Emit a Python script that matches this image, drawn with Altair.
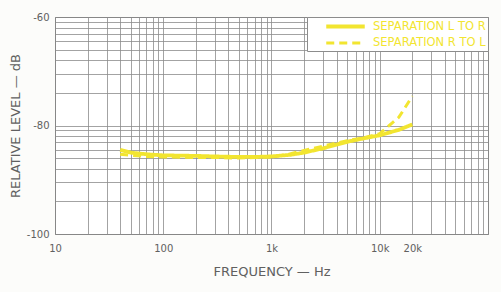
import math
import altair as alt
import pandas as pd

# ---- data ----
freq = [40, 50, 70, 100, 200, 300, 500, 700, 1000, 1500, 2000, 3000, 5000, 7000, 10000, 15000, 20000]
sep_l_to_r = [-84.5, -85.0, -85.3, -85.5, -85.6, -85.7, -85.8, -85.8, -85.7, -85.4, -85.0, -84.2, -83.0, -82.4, -81.8, -80.8, -79.8]
sep_r_to_l = [-85.3, -85.5, -85.7, -85.8, -85.9, -85.9, -86.0, -85.9, -85.8, -85.2, -84.6, -83.8, -82.8, -82.3, -81.5, -78.5, -74.6]
series_names = ["SEPARATION L TO R", "SEPARATION R TO L"]

x_label_values = [10, 100, 1000, 10000, 20000]
x_label_text = ["10", "100", "1k", "10k", "20k"]
y_label_values = [-60, -80, -100]
y_label_text = ["-60", "-80", "-100"]

# log-paper grid lines
x_grid = sorted(set([k * 10 ** n for n in range(1, 5) for k in range(1, 10)] + [100000]))
y_grid = sorted(set(round(base + 20 * math.log10(k), 6) for base in (-100, -80) for k in range(1, 11)))

rows = []
for f, a, b in zip(freq, sep_l_to_r, sep_r_to_l):
    rows.append({"freq": f, "level": a, "series": series_names[0]})
    rows.append({"freq": f, "level": b, "series": series_names[1]})
df = pd.DataFrame(rows)

x_expr = " : ".join(f"datum.value == {v} ? '{t}'" for v, t in zip(x_label_values, x_label_text)) + " : ''"
y_expr = " : ".join(f"datum.value == {v} ? '{t}'" for v, t in zip(y_label_values, y_label_text)) + " : ''"

YELLOW = "#f2e530"
TEXT = "#606060"
FONT = "DejaVu Sans"
GRID = "#8c8c8c"

legend = alt.Legend(title=None, orient="top-right", offset=0,
                    symbolType="M-3.5,0H3.5", symbolSize=121, symbolStrokeWidth=2.5,
                    symbolOffset=29, labelOffset=20,
                    labelColor=YELLOW, labelFontSize=11.5, labelFont=FONT,
                    fillColor="white", strokeColor=GRID, padding=2, rowPadding=1)

chart = alt.Chart(df).mark_line(strokeCap="butt").encode(
    x=alt.X("freq:Q",
            scale=alt.Scale(type="log", domain=[10, 100000], nice=False),
            axis=alt.Axis(values=x_grid, labelExpr=x_expr, title="FREQUENCY — Hz",
                          ticks=False, domain=False, grid=True, gridColor=GRID,
                          gridWidth=0.8, labelPadding=9, labelFontSize=10, labelColor=TEXT,
                          labelFont=FONT, titleFont=FONT, titleFontSize=13, titleColor=TEXT,
                          titleFontWeight="normal", titlePadding=12, labelFlush=False,
                          labelOverlap=False)),
    y=alt.Y("level:Q",
            scale=alt.Scale(domain=[-100, -60], nice=False, zero=False),
            axis=alt.Axis(values=y_grid, labelExpr=y_expr, title="RELATIVE LEVEL — dB",
                          ticks=False, domain=False, grid=True, gridColor=GRID,
                          gridWidth=0.8, labelPadding=6, labelFontSize=10, labelColor=TEXT,
                          labelFont=FONT, titleFont=FONT, titleFontSize=13, titleColor=TEXT,
                          titleFontWeight="normal", titlePadding=4, labelOverlap=False,
                          labelFlush=False)),
    color=alt.Color("series:N", scale=alt.Scale(domain=series_names, range=[YELLOW, YELLOW]),
                    legend=legend),
    strokeDash=alt.StrokeDash("series:N", scale=alt.Scale(domain=series_names, range=[[1, 0], [8, 5]]),
                              legend=legend),
    strokeWidth=alt.StrokeWidth("series:N", scale=alt.Scale(domain=series_names, range=[3.8, 3.0]),
                                legend=None),
    order="freq:Q",
).properties(
    width=433,
    height=217,
    padding={"left": 55, "top": 17, "right": 13, "bottom": 58},
    autosize=alt.AutoSizeParams(type="none"),
    background="#fcfcfa",
).configure_view(stroke="#777777", strokeWidth=1, fill="white")

chart.save("out.html", embed_options={"renderer": "svg", "actions": False})
